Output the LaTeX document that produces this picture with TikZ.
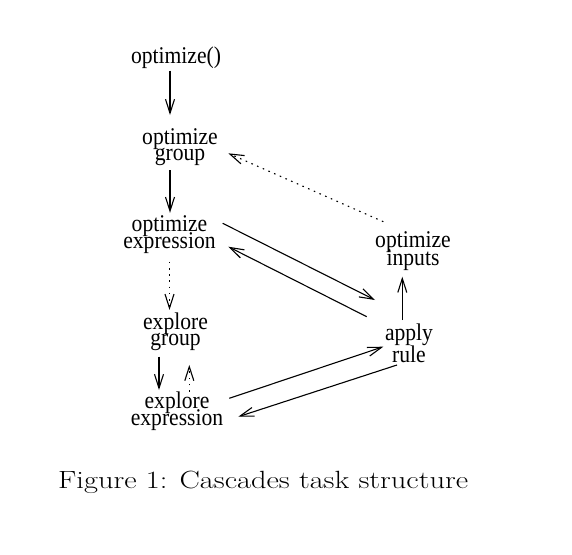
\documentclass[tikz,border=0pt]{standalone}
\usepackage{fontspec}
\usetikzlibrary{arrows.meta}
\newfontfamily\labfont[FakeStretch=0.9]{Liberation Serif}
\tikzset{
  lab/.style={font={\labfont\fontsize{24}{#1}\selectfont}, align=center, inner sep=0pt},
  lab/.default=18,
  arr/.style={line width=1.1pt, -{Straight Barb[length=14pt, width=9pt, line width=1.1pt]}},
  dotarr/.style={arr, dash pattern=on 1.6pt off 4.6pt}
}
\begin{document}
\setlength{\lineskiplimit}{-100pt}
\begin{tikzpicture}[x=1pt,y=-1pt]
\useasboundingbox[fill=white] (0,0) rectangle (572,554);
\node[lab] (o0) at (176,57.5) {optimize()};
\node[lab=16] (og) at (180,147) {optimize\\group};
\node[lab=17] (oe) at (169.5,234.3) {optimize\\expression};
\node[lab=16] (eg) at (175.5,331.9) {explore\\group};
\node[lab=17.5] (ee) at (177,411) {explore\\expression};
\node[lab=18] (oi) at (413,251.4) {optimize\\inputs};
\node[lab=22] (ar) at (409,342.8) {apply\\rule};
\node[anchor=base west, inner sep=0pt] (cap) at (58,488)
  {\resizebox{410pt}{\height}{\fontsize{24.9}{30}\selectfont Figure 1: Cascades task structure}};
% vertical arrows
\draw[arr] ([shift={(-6,13)}]o0.center) -- ([shift={(-10,-32)}]og.center);
\draw[arr] ([shift={(-10,23)}]og.center) -- ([shift={(0.5,-21.5)}]oe.center);
\draw[dotarr] ([shift={(0,27.5)}]oe.center) -- ([shift={(-6,-22)}]eg.center);
\draw[arr] ([shift={(-16.5,24.8)}]eg.center) -- ([shift={(-18,-21)}]ee.center);
\draw[dotarr] ([shift={(12.3,-19.5)}]ee.center) -- ([shift={(13.8,33)}]eg.center);
\draw[arr] ([shift={(-6.7,-22.8)}]ar.center) -- ([shift={(-10.7,25.3)}]oi.center);
% diagonal arrows
\draw[arr] ([shift={(53.2,-11)}]oe.center) -- ([shift={(-34,-42.8)}]ar.center);
\draw[arr] ([shift={(-42.3,-26.1)}]ar.center) -- ([shift={(58.8,12.4)}]oe.center);
\draw[arr] ([shift={(52.3,-12.7)}]ee.center) -- ([shift={(-25.7,3.9)}]ar.center);
\draw[arr] ([shift={(-12,22.2)}]ar.center) -- ([shift={(61.3,5.7)}]ee.center);
\draw[dotarr] ([shift={(-29.7,-29.7)}]oi.center) -- ([shift={(48.3,6.3)}]og.center);
\end{tikzpicture}
\end{document}
